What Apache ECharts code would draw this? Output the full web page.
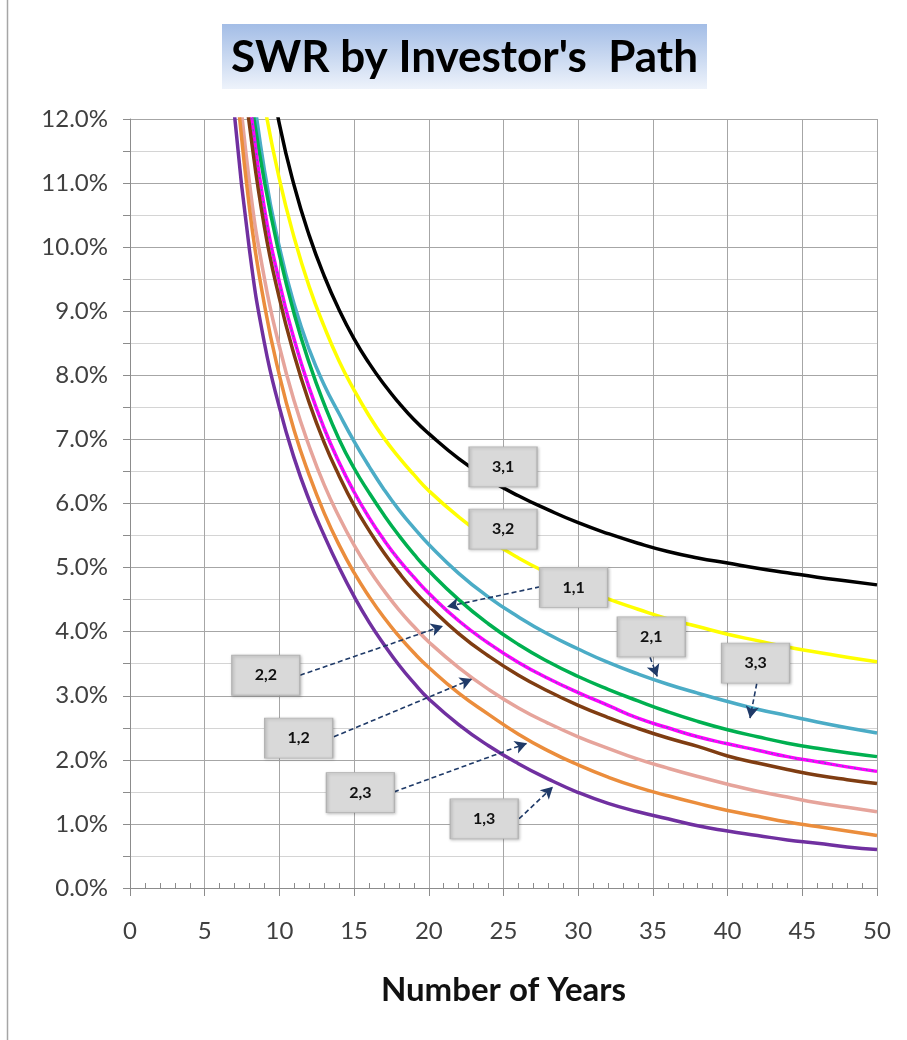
<!DOCTYPE html>
<html><head><meta charset="utf-8">
<script src="https://cdn.jsdelivr.net/npm/echarts@6/dist/echarts.min.js"></script>
<style>html,body{margin:0;padding:0;background:#fff}#c{width:907px;height:1040px}</style>
</head><body><div id="c"></div>
<script>
// Years sampled along the x axis
const YEARS = [7,8,9,10,11,12,13,14,15,16,17,18,19,20,22,24,26,28,30,32,34,36,38,40,42,44,46,48,50];
// SWR (%) per path (values above 12 are the lead-in past the top edge)
const PATH_3_1 = [null,null,13.2,11.92,10.95,10.18,9.55,9.02,8.57,8.19,7.86,7.57,7.31,7.09,6.7,6.38,6.12,5.9,5.7,5.53,5.38,5.25,5.15,5.07,4.99,4.92,4.85,4.79,4.73];
const PATH_3_2 = [null,13.7,12.22,11.06,10.14,9.38,8.76,8.22,7.77,7.37,7.02,6.72,6.45,6.2,5.79,5.44,5.15,4.91,4.7,4.51,4.35,4.2,4.08,3.96,3.86,3.76,3.68,3.6,3.53];
const PATH_2_1 = [null,12.9,11.2,10.0,9.1,8.4,7.85,7.4,6.97,6.58,6.22,5.9,5.62,5.36,4.91,4.54,4.23,3.96,3.73,3.52,3.34,3.18,3.04,2.91,2.79,2.69,2.59,2.5,2.42];
const PATH_1_1 = [null,12.47,11.02,9.88,8.95,8.19,7.55,7.0,6.55,6.17,5.82,5.5,5.21,4.95,4.5,4.12,3.8,3.53,3.3,3.1,2.92,2.75,2.6,2.47,2.36,2.26,2.18,2.11,2.05];
const PATH_2_2 = [null,12.3,10.6,9.45,8.55,7.8,7.17,6.64,6.18,5.78,5.43,5.12,4.85,4.6,4.17,3.82,3.52,3.27,3.05,2.85,2.65,2.5,2.36,2.25,2.15,2.05,1.97,1.89,1.82];
const PATH_3_3 = [13.8,11.9,10.31,9.2,8.31,7.57,6.95,6.43,5.97,5.58,5.23,4.92,4.64,4.4,3.97,3.62,3.32,3.07,2.85,2.66,2.49,2.34,2.21,2.06,1.95,1.85,1.76,1.69,1.63];
const PATH_1_2 = [13.3,11.0,9.51,8.45,7.59,6.89,6.29,5.79,5.35,4.97,4.64,4.34,4.08,3.84,3.44,3.1,2.81,2.57,2.36,2.18,2.01,1.87,1.74,1.62,1.51,1.42,1.33,1.26,1.19];
const PATH_2_3 = [12.9,10.6,9.1,8.0,7.13,6.44,5.85,5.35,4.92,4.55,4.22,3.93,3.67,3.44,3.04,2.71,2.4,2.14,1.92,1.73,1.57,1.44,1.32,1.21,1.12,1.03,0.96,0.89,0.82];
const PATH_1_3 = [12.05,9.95,8.5,7.5,6.7,6.05,5.5,5.0,4.55,4.15,3.8,3.48,3.2,2.95,2.55,2.22,1.94,1.7,1.49,1.32,1.19,1.08,0.97,0.89,0.82,0.75,0.7,0.64,0.6];
// Callout labels and arrow end points, in data units (year, %)
const LABEL_NAMES = ['3,1','3,2','1,1','2,1','3,3','2,2','1,2','2,3','1,3'];
const LABEL_AT = [[24.97,6.57],[24.97,5.6],[29.69,4.69],[34.89,3.92],[41.87,3.51],[9.09,3.32],[11.29,2.34],[15.42,1.49],[23.71,1.08]];
const ARROW_FROM = [[27.44,4.70],[11.38,3.32],[13.65,2.36],[17.67,1.50],[26.04,1.08],[34.81,3.60],[41.95,3.19]];
const ARROW_TO   = [[21.22,4.39],[20.95,4.09],[22.89,3.26],[26.57,2.26],[28.31,1.58],[35.29,3.30],[41.5,2.65]];
const X_TICKS = {min:0,max:50,step:5};
const Y_TICKS = {min:0,max:12,step:1};

const FONT = 'Lato, "Open Sans", sans-serif';
const pairs = v => YEARS.map((y,i)=>[y, v[i]]);
function lineSeries(name, vals, color, extra) {
  return Object.assign({
    name, type:'line', data: pairs(vals), showSymbol:false, smooth:0.5,
    clip:true, lineStyle:{color, width:3.5}, itemStyle:{color}, z:2
  }, extra||{});
}
const chart = echarts.init(document.getElementById('c'), null, {renderer:'canvas'});
const series = [
  lineSeries('3,1', PATH_3_1, '#000000'),
  lineSeries('3,2', PATH_3_2, '#ffff00'),
  lineSeries('2,1', PATH_2_1, '#4bacc6'),
  lineSeries('1,1', PATH_1_1, '#00b050'),
  lineSeries('2,2', PATH_2_2, '#ff00ff'),
  lineSeries('2,2 dots', PATH_2_2, '#5a6fb5', {lineStyle:{color:'#5a6fb5', width:1.4, type:[2,4]}, z:3}),
  lineSeries('3,3', PATH_3_3, '#7f3d12'),
  lineSeries('1,2', PATH_1_2, '#e6a49b'),
  lineSeries('2,3', PATH_2_3, '#eb8d3c'),
  lineSeries('1,3', PATH_1_3, '#7030a0', {
    markLine: {
      silent:true, animation:false, symbol:['none','arrow'], symbolSize:[10,12],
      label:{show:false},
      lineStyle:{type:[5,3], color:'#1f3a68', width:1.6},
      data: ARROW_FROM.map((f,i)=>[{coord:f},{coord:ARROW_TO[i]}])
    },
    markPoint: {
      silent:true, animation:false, symbol:'rect', symbolSize:[68,40],
      itemStyle:{color:'#d9d9d9', borderColor:'#b3b3b3', borderWidth:1, shadowBlur:3, shadowColor:'rgba(0,0,0,0.25)', shadowOffsetX:1, shadowOffsetY:1},
      label:{show:true, position:'inside', formatter:'{b}', color:'#111', fontSize:16, fontWeight:'bold', fontFamily:FONT},
      data: LABEL_NAMES.map((n,i)=>({name:n, coord:LABEL_AT[i]}))
    }
  })
];
chart.setOption({
  animation:false,
  backgroundColor:'#ffffff',
  grid:{left:130, right:30, top:119, bottom:152, containLabel:false},
  xAxis:[{
    type:'value', min:X_TICKS.min, max:X_TICKS.max, interval:X_TICKS.step,
    axisLine:{show:true, lineStyle:{color:'#8c8c8c', width:1}},
    axisTick:{show:true, length:8, lineStyle:{color:'#8c8c8c'}},
    axisLabel:{fontSize:24, color:'#404040', margin:31, fontFamily:FONT},
    splitLine:{show:true, lineStyle:{color:'#a6a6a6', width:1}},
    name:'Number of Years', nameLocation:'middle', nameGap:86,
    nameTextStyle:{fontSize:33, fontWeight:'bold', color:'#111', fontFamily:FONT}
  },{
    type:'value', min:X_TICKS.min, max:X_TICKS.max, interval:X_TICKS.step, position:'bottom',
    axisLine:{show:false}, axisTick:{show:false, inside:true}, axisLabel:{show:false}, splitLine:{show:false},
    minorTick:{show:true, splitNumber:5, length:5, lineStyle:{color:'#8c8c8c'}}
  }],
  yAxis:{
    type:'value', min:Y_TICKS.min, max:Y_TICKS.max, interval:Y_TICKS.step,
    axisLine:{show:true, lineStyle:{color:'#8c8c8c'}},
    axisTick:{show:true, length:7, lineStyle:{color:'#8c8c8c'}},
    minorTick:{show:true, splitNumber:2, length:7, lineStyle:{color:'#8c8c8c'}},
    splitLine:{show:true, lineStyle:{color:'#a6a6a6'}},
    minorSplitLine:{show:true, lineStyle:{color:'#d4d4d4'}},
    axisLabel:{formatter:v=>v.toFixed(1)+'%', fontSize:24, color:'#404040', margin:22, fontFamily:FONT}
  },
  graphic:[
    {type:'line', shape:{x1:7.5,y1:0,x2:7.5,y2:1040}, style:{stroke:'#a6a6a6', lineWidth:1.5}, silent:true},
    {type:'rect', shape:{x:222,y:24,width:485,height:65}, silent:true,
     style:{fill:new echarts.graphic.LinearGradient(0,0,0,1,[{offset:0,color:'#a3bde6'},{offset:1,color:'#eef3fb'}])}},
    {type:'text', x:464.5, y:58, silent:true,
     style:{text:"SWR by Investor's  Path", fill:'#000', fontSize:44, fontWeight:'bold', fontFamily:FONT, align:'center', verticalAlign:'middle'}}
  ],
  series
});
</script></body></html>
